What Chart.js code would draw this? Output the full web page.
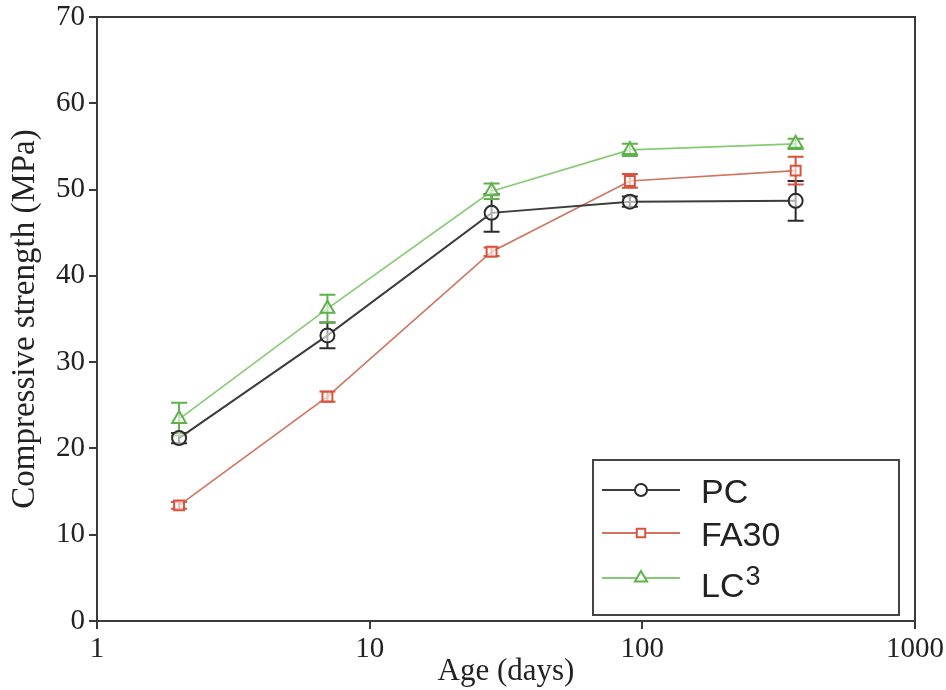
<!DOCTYPE html>
<html><head><meta charset="utf-8">
<script src="https://cdn.jsdelivr.net/npm/chart.js@4/dist/chart.umd.min.js"></script>
<style>html,body{margin:0;padding:0;background:#fff}#wrap{width:946px;height:690px;position:relative}</style>
</head><body><div id="wrap"><canvas id="c" width="946" height="690"></canvas></div>
<script>
const ages = [2, 7, 28, 90, 365];
const pcValues = [21.2, 33.1, 47.3, 48.6, 48.7];
const pcErrors = [0.6, 1.5, 2.2, 0.6, 2.3];
const fa30Values = [13.4, 26.0, 42.8, 51.0, 52.2];
const fa30Errors = [0.4, 0.6, 0.5, 0.8, 1.6];
const lc3Values = [23.4, 36.2, 49.8, 54.6, 55.3];
const lc3Errors = [1.9, 1.6, 0.9, 0.7, 0.6];
const xTicks = [1, 10, 100, 1000];
const yTicks = [0, 10, 20, 30, 40, 50, 60, 70];
const seriesNames = ['PC', 'FA30', 'LC3'];

const serif = "'Liberation Serif','Times New Roman',serif";
const sans = "'Liberation Sans', Arial, sans-serif";
const axisColor = '#3a3a3a';
const colors = {PC: '#2b2b2b', FA30: '#d9533c', LC3: '#5fb14a'};
const lineColors = {PC: '#3c3c3c', FA30: '#d0735f', LC3: '#86ca74'};

function pts(vals){ return ages.map((a,i)=>({x:a,y:vals[i]})); }

const styles = [
  {pointStyle:'circle', pointRadius:7, borderWidth:2},
  {pointStyle:'rect', pointRadius:7, borderWidth:1.6},
  {pointStyle:'triangle', pointRadius:8, borderWidth:1.6}
];
const valueSets = [pcValues, fa30Values, lc3Values];
const errorSets = [pcErrors, fa30Errors, lc3Errors];

const datasets = seriesNames.map((name, i)=>Object.assign({
  label: name, data: pts(valueSets[i]), err: errorSets[i],
  borderColor: lineColors[name], pointBorderColor: colors[name],
  pointBackgroundColor:'rgba(255,255,255,0.6)', pointBorderWidth:2, tension:0, fill:false
}, styles[i]));

const errorBars = {
  id:'errorBars',
  beforeDatasetsDraw(chart){
    const ctx = chart.ctx, xs = chart.scales.x, ys = chart.scales.y;
    chart.data.datasets.forEach(ds=>{
      ctx.save();
      ctx.strokeStyle = ds.pointBorderColor; ctx.lineWidth = 2;
      ds.data.forEach((p,i)=>{
        const e = ds.err[i]; if(!e) return;
        const px = xs.getPixelForValue(p.x);
        const y1 = ys.getPixelForValue(p.y+e), y2 = ys.getPixelForValue(p.y-e);
        ctx.beginPath();
        ctx.moveTo(px,y1); ctx.lineTo(px,y2);
        ctx.moveTo(px-8,y1); ctx.lineTo(px+8,y1);
        ctx.moveTo(px-8,y2); ctx.lineTo(px+8,y2);
        ctx.stroke();
      });
      ctx.restore();
    });
  }
};

const frame = {
  id:'frame',
  afterDraw(chart){
    const ctx = chart.ctx, a = chart.chartArea;
    ctx.save();
    ctx.strokeStyle = axisColor; ctx.lineWidth = 2;
    ctx.beginPath();
    ctx.moveTo(a.left, a.top); ctx.lineTo(a.right, a.top); ctx.lineTo(a.right, a.bottom);
    ctx.stroke();
    // legend box
    const bx = 593, by = 460, bw = 306, bh = 155;
    ctx.fillStyle = '#fff';
    ctx.fillRect(bx, by, bw, bh);
    ctx.strokeStyle = '#444'; ctx.lineWidth = 2;
    ctx.strokeRect(bx, by, bw, bh);
    const rows = [490, 533, 578];
    chart.data.datasets.forEach((ds, i)=>{
      const y = rows[i];
      ctx.strokeStyle = ds.borderColor; ctx.lineWidth = 2;
      ctx.beginPath(); ctx.moveTo(602, y); ctx.lineTo(680, y); ctx.stroke();
      ctx.strokeStyle = ds.pointBorderColor; ctx.fillStyle = '#fff'; ctx.lineWidth = 2;
      Chart.helpers.drawPoint(ctx, {pointStyle: ds.pointStyle, radius: i===2?7:6, borderWidth: 2}, 641, y);
      ctx.fillStyle = '#222';
      ctx.font = "34px " + sans;
      ctx.textBaseline = 'alphabetic'; ctx.textAlign = 'left';
      if (ds.label === 'LC3') {
        ctx.fillText('LC', 701, y + 19);
        const w = ctx.measureText('LC').width;
        ctx.font = "27px " + sans;
        ctx.fillText('3', 701 + w + 1, y + 7);
      } else {
        ctx.fillText(ds.label, 701, y + 13);
      }
    });
    ctx.restore();
  }
};

new Chart(document.getElementById('c'), {
  type:'line',
  data:{datasets},
  options:{
    responsive:false, animation:false,
    layout:{padding:{top:17, right:31, left:0, bottom:0}},
    plugins:{legend:{display:false}, tooltip:{enabled:false}},
    scales:{
      x:{
        type:'logarithmic', min:1, max:1000,
        afterBuildTicks(s){ s.ticks = xTicks.map(v=>({value:v})); },
        afterFit(s){ s.height = 69; s.paddingRight = 0; s.paddingLeft = 0; },
        grid:{display:true, drawOnChartArea:false, drawTicks:true, tickLength:8, color:axisColor, lineWidth:2},
        border:{display:true, color:axisColor, width:2},
        ticks:{color:'#222', font:{family:serif, size:29}, padding:3, maxRotation:0, autoSkip:false, callback:(v)=>String(v)},
        title:{display:true, text:'Age (days)', color:'#222', font:{family:serif, size:31}, padding:{top:-20, bottom:0}}
      },
      y:{
        type:'linear', min:0, max:70,
        afterBuildTicks(s){ s.ticks = yTicks.map(v=>({value:v})); },
        afterFit(s){ s.width = 97; s.paddingTop = 0; s.paddingBottom = 0; },
        grid:{display:true, drawOnChartArea:false, drawTicks:true, tickLength:8, color:axisColor, lineWidth:2},
        border:{display:true, color:axisColor, width:2},
        ticks:{color:'#222', font:{family:serif, size:29}, padding:4},
        title:{display:true, text:'Compressive strength (MPa)', color:'#222', font:{family:serif, size:33}, padding:{top:6, bottom:4}}
      }
    }
  },
  plugins:[errorBars, frame]
});
</script></body></html>
